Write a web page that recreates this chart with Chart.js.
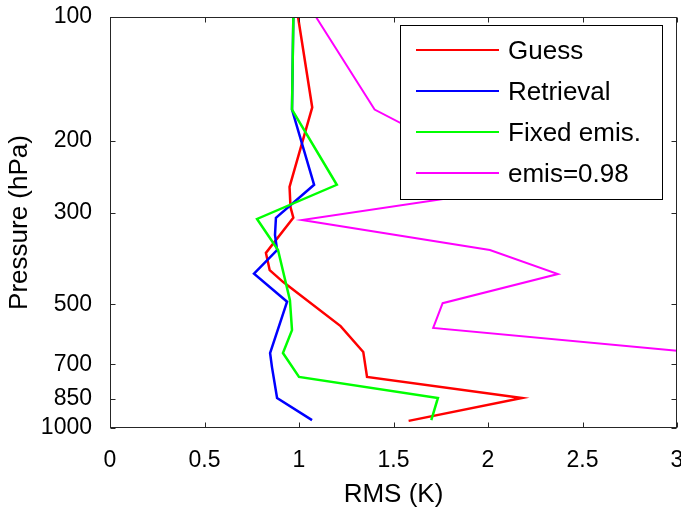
<!DOCTYPE html>
<html>
<head>
<meta charset="utf-8">
<script src="https://cdn.jsdelivr.net/npm/chart.js@4"></script>
<style>
  body { margin: 0; background: #fff; }
  #wrap { width: 681px; height: 510px; }
</style>
</head>
<body>
<div id="wrap"><canvas id="rmsChart" width="681" height="510"></canvas></div>
<script>
const seriesNames = ["Guess", "Retrieval", "Fixed emis.", "emis=0.98"];
const seriesColors = ["#ff0000", "#0000ff", "#00ff00", "#ff00ff"];

// pressure levels (hPa) and RMS (K)
const guessP   = [100, 166, 259, 290, 308, 375, 413, 441, 565, 653, 751, 845, 961];
const guessRms = [0.995, 1.07, 0.95, 0.955, 0.97, 0.825, 0.845, 0.915, 1.22, 1.34, 1.36, 2.18, 1.58];

const retrP   = [100, 168, 256, 308, 339, 369, 421, 493, 657, 711, 845, 957];
const retrRms = [0.97, 0.963, 1.08, 0.878, 0.873, 0.884, 0.762, 0.937, 0.847, 0.857, 0.884, 1.069];

const fixedP   = [100, 168, 256, 310, 369, 489, 578, 657, 751, 845, 957];
const fixedRms = [0.97, 0.963, 1.20, 0.778, 0.889, 0.952, 0.963, 0.915, 1.0, 1.735, 1.70];

const emisP   = [100, 168, 259, 312, 369, 422, 497, 571, 655, 750, 845, 957];
const emisRms = [1.09, 1.40, 2.19, 1.016, 2.01, 2.37, 1.76, 1.71, 3.1, 3.6, 3.9, 3.5];

const pressureTicks = [100, 200, 300, 500, 700, 850, 1000];
const rmsTicks = [0, 0.5, 1, 1.5, 2, 2.5, 3];

const FONT = "'Liberation Sans', Arial, sans-serif";

function toPoints(ps, xs) {
  return ps.map((p, i) => ({ x: xs[i], y: p }));
}

const allSeries = [
  toPoints(guessP, guessRms),
  toPoints(retrP, retrRms),
  toPoints(fixedP, fixedRms),
  toPoints(emisP, emisRms)
];

// frame with inward ticks on all four sides + boxed legend inside the plot
const framePlugin = {
  id: "frame",
  afterDraw(chart) {
    const ctx = chart.ctx;
    const a = chart.chartArea;
    const xs = chart.scales.x, ys = chart.scales.y;
    const L = Math.round(a.left) + 0.5, R = Math.round(a.right) - 0.5;
    const T = Math.round(a.top) + 0.5, B = Math.round(a.bottom) - 0.5;
    ctx.save();
    ctx.strokeStyle = "#262626";
    ctx.lineWidth = 1;
    ctx.strokeRect(L, T, R - L, B - T);
    ctx.beginPath();
    rmsTicks.forEach(v => {
      const px = Math.round(xs.getPixelForValue(v)) + 0.5;
      ctx.moveTo(px, B); ctx.lineTo(px, B - 5);
      ctx.moveTo(px, T); ctx.lineTo(px, T + 5);
    });
    pressureTicks.forEach(v => {
      const py = Math.round(ys.getPixelForValue(v)) + 0.5;
      ctx.moveTo(L, py); ctx.lineTo(L + 5, py);
      ctx.moveTo(R, py); ctx.lineTo(R - 5, py);
    });
    ctx.stroke();

    // legend
    const bx = 400.5, by = 25.5, bw = 262, bh = 174;
    ctx.fillStyle = "#fff";
    ctx.fillRect(bx, by, bw, bh);
    ctx.strokeStyle = "#000";
    ctx.strokeRect(bx, by, bw, bh);
    ctx.font = "26px " + FONT;
    ctx.textBaseline = "middle";
    ctx.textAlign = "left";
    seriesNames.forEach((name, i) => {
      const ly = 50 + i * 41;
      ctx.strokeStyle = seriesColors[i];
      ctx.lineWidth = 2;
      ctx.beginPath();
      ctx.moveTo(416, ly);
      ctx.lineTo(499, ly);
      ctx.stroke();
      ctx.fillStyle = "#000";
      ctx.fillText(name, 508, ly + 2);
    });
    ctx.restore();
  }
};

new Chart(document.getElementById("rmsChart"), {
  type: "line",
  data: {
    datasets: allSeries.map((pts, i) => ({
      label: seriesNames[i],
      data: pts,
      borderColor: seriesColors[i],
      borderWidth: i === 3 ? 2 : 2.5,
      pointRadius: 0,
      tension: 0,
      fill: false,
      order: 4 - i
    }))
  },
  options: {
    responsive: false,
    animation: false,
    layout: { padding: { left: 0, right: 4, top: 17, bottom: 0 } },
    plugins: {
      legend: { display: false },
      tooltip: { enabled: false }
    },
    scales: {
      x: {
        type: "linear",
        min: 0,
        max: 3,
        grid: { display: false },
        border: { display: false },
        afterFit: s => { s.height = 82; s.paddingLeft = 0; s.paddingRight = 0; },
        afterBuildTicks: s => { s.ticks = rmsTicks.map(v => ({ value: v })); },
        ticks: {
          autoSkip: false,
          maxRotation: 0,
          padding: 11,
          color: "#000",
          font: { family: FONT, size: 23 },
          callback: v => String(v)
        },
        title: {
          display: true,
          text: "RMS (K)",
          color: "#000",
          font: { family: FONT, size: 26 },
          padding: { top: 0, bottom: 0 }
        }
      },
      y: {
        type: "logarithmic",
        reverse: true,
        min: 100,
        max: 1000,
        grid: { display: false },
        border: { display: false },
        afterFit: s => { s.width = 110; s.paddingTop = 0; s.paddingBottom = 0; },
        afterBuildTicks: s => { s.ticks = pressureTicks.map(v => ({ value: v })); },
        ticks: {
          autoSkip: false,
          padding: 10,
          color: "#000",
          font: { family: FONT, size: 23 },
          callback: v => String(v)
        },
        title: {
          display: true,
          text: "Pressure (hPa)",
          color: "#000",
          font: { family: FONT, size: 26 },
          padding: { top: 4, bottom: 0 }
        }
      }
    }
  },
  plugins: [framePlugin]
});
</script>
</body>
</html>
